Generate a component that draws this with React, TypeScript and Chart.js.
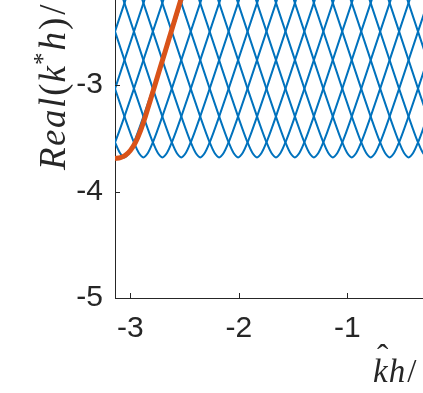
import React, { useEffect, useRef } from "react";
import { Chart, registerables } from "chart.js";

Chart.register(...registerables);

// Axis ranges
const xMin = -3.14159;
const xMax = 0;
const yMin = -5;
const yMax = -2;

// Blue branches: x position of each branch minimum
const branchMinX = [
  -3.927, -3.752, -3.578, -3.403, -3.229, -3.054, -2.88, -2.705, -2.531, -2.356,
  -2.182, -2.007, -1.833, -1.658, -1.484, -1.309, -1.134, -0.96, -0.785, -0.611,
  -0.436, -0.262, -0.087, 0.087, 0.262, 0.436,
];
const branchMinY = -3.68;
// Shape of one branch: horizontal distance from its minimum and rise above it
const branchDx = [0, 0.043, 0.087, 0.131, 0.175, 0.262, 0.349, 0.524, 0.698, 0.873];
const branchDy = [0, 0.043, 0.141, 0.259, 0.385, 0.646, 0.914, 1.451, 1.991, 2.535];

// Orange curve
const orangeX = [
  -3.1416, -3.092, -3.046, -3.0, -2.954, -2.908, -2.862, -2.816, -2.77, -2.724,
  -2.677, -2.631, -2.585, -2.539, -2.475, -2.447,
];
const orangeY = [
  -3.69, -3.683, -3.66, -3.615, -3.542, -3.434, -3.296, -3.143, -2.988, -2.833,
  -2.678, -2.523, -2.369, -2.214, -1.997, -1.905,
];

const BLUE = "#0072BD";
const ORANGE = "#D95319";
const AXIS = "#262626";
const TICK_FONT = '"Liberation Sans", Arial, Helvetica, sans-serif';
const MATH_FONT = '"Liberation Serif", "Times New Roman", serif';

function branchPoints(m: number) {
  const pts: { x: number; y: number }[] = [];
  for (let i = branchDx.length - 1; i >= 1; i--) {
    pts.push({ x: m - branchDx[i], y: branchMinY + branchDy[i] });
  }
  for (let i = 0; i < branchDx.length; i++) {
    pts.push({ x: m + branchDx[i], y: branchMinY + branchDy[i] });
  }
  return pts;
}

const inwardTicks = {
  id: "inwardTicks",
  afterDatasetsDraw(chart: any) {
    const { ctx, chartArea, scales } = chart;
    ctx.save();
    ctx.strokeStyle = AXIS;
    ctx.lineWidth = 1;
    scales.x.ticks.forEach((t: any) => {
      const px = Math.round(scales.x.getPixelForValue(t.value)) + 0.5;
      ctx.beginPath();
      ctx.moveTo(px, chartArea.bottom);
      ctx.lineTo(px, chartArea.bottom - 5);
      ctx.stroke();
    });
    scales.y.ticks.forEach((t: any) => {
      const py = Math.round(scales.y.getPixelForValue(t.value)) + 0.5;
      ctx.beginPath();
      ctx.moveTo(chartArea.left, py);
      ctx.lineTo(chartArea.left + 5, py);
      ctx.stroke();
    });
    ctx.restore();
  },
};

type Seg = { t: string; italic: boolean; size: number; dy?: number; gap?: number };

function drawSegs(ctx: CanvasRenderingContext2D, segs: Seg[]) {
  let x = 0;
  segs.forEach((s) => {
    ctx.font = `${s.italic ? "italic " : ""}${s.size}px ${MATH_FONT}`;
    x += s.gap || 0;
    ctx.fillText(s.t, x, s.dy || 0);
    x += ctx.measureText(s.t).width;
  });
}

const axisTitles = {
  id: "axisTitles",
  afterDraw(chart: any) {
    const { ctx, chartArea } = chart;
    ctx.save();
    ctx.fillStyle = AXIS;
    ctx.textAlign = "left";
    ctx.textBaseline = "alphabetic";
    // y title
    ctx.save();
    ctx.translate(chartArea.left - 50, chartArea.bottom - 128);
    ctx.rotate(-Math.PI / 2);
    drawSegs(ctx, [
      { t: "R", italic: true, size: 37 },
      { t: "e", italic: true, size: 37, gap: 1.5 },
      { t: "a", italic: true, size: 37, gap: 1.5 },
      { t: "l", italic: true, size: 37, gap: 1.5 },
      { t: "(", italic: false, size: 37, gap: 2 },
      { t: "k", italic: true, size: 37, gap: 1 },
      { t: "*", italic: false, size: 25, dy: -14, gap: 1 },
      { t: "h", italic: true, size: 37, gap: 2 },
      { t: ")", italic: false, size: 37, gap: 2 },
      { t: "/", italic: false, size: 37, gap: 3 },
      { t: "π", italic: true, size: 37, gap: 12 },
    ]);
    ctx.restore();
    // x title
    ctx.save();
    ctx.translate(chartArea.left + 258, chartArea.bottom + 84);
    drawSegs(ctx, [
      { t: "k", italic: true, size: 33 },
      { t: "h", italic: true, size: 33, gap: 1 },
      { t: "/", italic: false, size: 33, gap: 2 },
      { t: "π", italic: true, size: 33, gap: 8 },
    ]);
    ctx.font = `34px ${MATH_FONT}`;
    ctx.fillText("ˆ", 4, -14);
    ctx.restore();
    ctx.restore();
  },
};

export default function App() {
  const ref = useRef<HTMLCanvasElement | null>(null);
  useEffect(() => {
    if (!ref.current) return;
    const blueSets = branchMinX.map((m) => ({
      data: branchPoints(m),
      borderColor: BLUE,
      borderWidth: 2,
      pointRadius: 0,
      cubicInterpolationMode: "monotone" as const,
      order: 1,
    }));
    const orangeSet = {
      data: orangeX.map((x, i) => ({ x, y: orangeY[i] })),
      borderColor: ORANGE,
      borderWidth: 5,
      pointRadius: 0,
      cubicInterpolationMode: "monotone" as const,
      order: 0,
    };
    const chart = new Chart(ref.current, {
      type: "line",
      data: { datasets: [orangeSet, ...blueSets] as any },
      plugins: [inwardTicks, axisTitles],
      options: {
        animation: false,
        responsive: false,
        devicePixelRatio: 1,
        parsing: false as any,
        layout: { padding: { top: 18.5, right: 44.1, left: 0, bottom: 0 } },
        plugins: { legend: { display: false }, tooltip: { enabled: false } },
        scales: {
          x: {
            type: "linear",
            min: xMin,
            max: xMax,
            afterFit: (s: any) => {
              s.height = 122;
              s.paddingLeft = 0;
              s.paddingRight = 0;
            },
            ticks: {
              stepSize: 1,
              includeBounds: false,
              color: AXIS,
              padding: 13,
              maxRotation: 0,
              font: { family: TICK_FONT, size: 30 },
            },
            grid: { display: true, drawOnChartArea: false, drawTicks: false },
            border: { display: true, color: AXIS, width: 1 },
          },
          y: {
            type: "linear",
            min: yMin,
            max: yMax,
            afterFit: (s: any) => {
              s.width = 115;
              s.paddingTop = 0;
              s.paddingBottom = 0;
            },
            ticks: {
              stepSize: 1,
              includeBounds: false,
              color: AXIS,
              padding: 12,
              font: { family: TICK_FONT, size: 30 },
            },
            grid: { display: true, drawOnChartArea: false, drawTicks: false },
            border: { display: true, color: AXIS, width: 1 },
          },
        },
      },
    });
    return () => chart.destroy();
  }, []);
  return (
    <div
      style={{
        position: "fixed",
        left: 0,
        top: 0,
        width: 423,
        height: 393,
        overflow: "hidden",
        background: "#fff",
      }}
    >
      <canvas
        ref={ref}
        width={500}
        height={460}
        style={{ position: "absolute", left: 0, top: -40, width: 500, height: 460 }}
      />
    </div>
  );
}
